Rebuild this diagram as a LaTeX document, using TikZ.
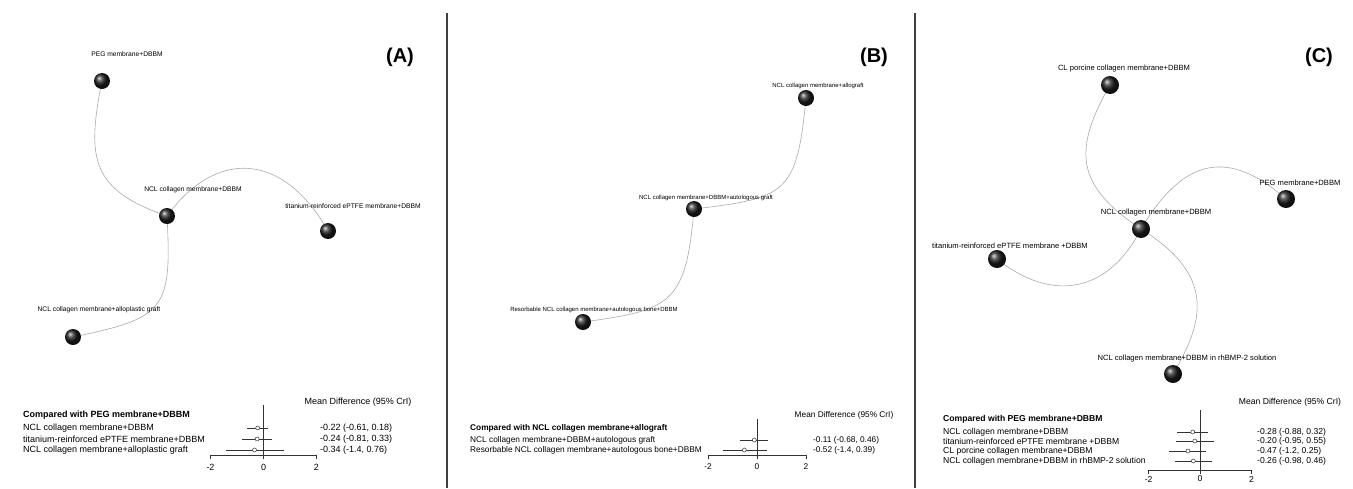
\documentclass[tikz,border=0pt]{standalone}
\usepackage{fontspec}
\setmainfont{Liberation Sans}
\usetikzlibrary{backgrounds}
\tikzset{
  sph/.style={circle, inner sep=0pt, minimum size=#1, ball color=black!88},
  sph/.default=16pt,
  link/.style={draw=gray!65, line width=0.6pt},
  lab/.style={inner sep=0pt, font=\fontsize{#1}{#1}\selectfont},
  panel/.style={inner sep=0pt, font=\fontsize{20}{20}\selectfont\bfseries},
  divider/.style={draw=black!75, line width=1.1pt},
  ci/.style={draw=black!80, line width=0.6pt},
  est/.style={draw=black!80, fill=white, line width=0.5pt},
  txt/.style={inner sep=0pt, anchor=west, font=\fontsize{#1}{#1}\selectfont},
}
\begin{document}
\begin{tikzpicture}[x=1pt,y=-1pt]
\useasboundingbox (0,0) rectangle (1353,488);
\begin{scope}[on background layer]
\fill[white] (0,0) rectangle (1353,488);
\end{scope}

% dividers
\coordinate (d1t) at (447,13); \coordinate (d1b) at (447,488);
\coordinate (d2t) at (915,13); \coordinate (d2b) at (915,488);
\draw[divider] (d1t) -- (d1b);
\draw[divider] (d2t) -- (d2b);

% ================= Panel A =================
\node[panel] (pA) at (400,57) {(A)};
\node[lab=6.7] (a1l) at (127,54) {PEG membrane+DBBM};
\node[lab=6.7] (a2l) at (193,190) {NCL collagen membrane+DBBM};
\node[lab=6.7] (a3l) at (353,206) {titanium-reinforced ePTFE membrane+DBBM};
\node[lab=6.7] (a4l) at (99,310) {NCL collagen membrane+alloplastic graft};
\node[sph] (a1) at (102,81) {};
\node[sph] (a2) at (167,216) {};
\node[sph] (a3) at (328,231) {};
\node[sph] (a4) at (73,337) {};
\begin{scope}[on background layer]
\path[link] (a1.center) .. controls (86,160) and (92,190) .. (a2.center);
\path[link] (a2.center) .. controls (215,150) and (282,150) .. (a3.center);
\path[link] (a2.center) .. controls (172,310) and (165,318) .. (a4.center);
\end{scope}

% forest A
\node[txt=9, anchor=center] (amd) at (358,402) {Mean Difference (95\% CrI)};
\node[txt=9, font=\fontsize{9}{9}\selectfont\bfseries] (acmp) at (23,415) {Compared with PEG membrane+DBBM};
\node[txt=9] (ar1) at (23,428) {NCL collagen membrane+DBBM};
\node[txt=9] (ar2) at (23,439) {titanium-reinforced ePTFE membrane+DBBM};
\node[txt=9] (ar3) at (23,450) {NCL collagen membrane+alloplastic graft};
\node[txt=9] (av1) at (320,428) {-0.22 (-0.61, 0.18)};
\node[txt=9] (av2) at (320,439) {-0.24 (-0.81, 0.33)};
\node[txt=9] (av3) at (320,450) {-0.34 (-1.4, 0.76)};
\begin{scope}[shift={(263.5,0)}, x=26.5pt]
  \draw[ci] (0,405) -- (0,459);
  \draw[ci] (-2,459) -- (-2,455) -- (2,455) -- (2,459);
  \draw[ci] (-0.61,428) -- (0.18,428);
  \draw[ci] (-0.81,439) -- (0.33,439);
  \draw[ci] (-1.4,450) -- (0.76,450);
  \draw[est] (-0.22,428) circle (2pt);
  \draw[est] (-0.24,439) circle (2pt);
  \draw[est] (-0.34,450) circle (2pt);
  \node[lab=9] (at1) at (-2,467) {-2};
  \node[lab=9] (at2) at (0,467) {0};
  \node[lab=9] (at3) at (2,467) {2};
\end{scope}

% ================= Panel B =================
\node[panel] (pB) at (874,57) {(B)};
\node[lab=6] (b1l) at (818,86) {NCL collagen membrane+allograft};
\node[lab=6] (b2l) at (706,198) {NCL collagen membrane+DBBM+autologous graft};
\node[lab=6] (b3l) at (594,310) {Resorbable NCL collagen membrane+autologous bone+DBBM};
\node[sph] (b1) at (806,98) {};
\node[sph] (b2) at (694,209) {};
\node[sph] (b3) at (583,322) {};
\begin{scope}[on background layer]
\path[link] (b1.center) .. controls (797,195) and (785,198) .. (b2.center);
\path[link] (b2.center) .. controls (686,305) and (670,310) .. (b3.center);
\end{scope}

% forest B
\node[txt=8.3, anchor=center] (bmd) at (844,415) {Mean Difference (95\% CrI)};
\node[txt=8.3, font=\fontsize{8.3}{8.3}\selectfont\bfseries] (bcmp) at (470,428) {Compared with NCL collagen membrane+allograft};
\node[txt=8.3] (br1) at (470,440) {NCL collagen membrane+DBBM+autologous graft};
\node[txt=8.3] (br2) at (470,450) {Resorbable NCL collagen membrane+autologous bone+DBBM};
\node[txt=8.3] (bv1) at (813,440) {-0.11 (-0.68, 0.46)};
\node[txt=8.3] (bv2) at (813,450) {-0.52 (-1.4, 0.39)};
\begin{scope}[shift={(757,0)}, x=24.5pt]
  \draw[ci] (0,419) -- (0,459);
  \draw[ci] (-2,459) -- (-2,455) -- (2,455) -- (2,459);
  \draw[ci] (-0.68,440) -- (0.46,440);
  \draw[ci] (-1.4,450) -- (0.39,450);
  \draw[est] (-0.11,440) circle (2pt);
  \draw[est] (-0.52,450) circle (2pt);
  \node[lab=8.3] (bt1) at (-2,467) {-2};
  \node[lab=8.3] (bt2) at (0,467) {0};
  \node[lab=8.3] (bt3) at (2,467) {2};
\end{scope}

% ================= Panel C =================
\node[panel] (pC) at (1319,57) {(C)};
\node[lab=7.6] (c1l) at (1124,69) {CL porcine collagen membrane+DBBM};
\node[lab=7.6] (c2l) at (1300,183) {PEG membrane+DBBM};
\node[lab=7.6] (c3l) at (1156,213) {NCL collagen membrane+DBBM};
\node[lab=7.6] (c4l) at (1010,246) {titanium-reinforced ePTFE membrane +DBBM};
\node[lab=7.6] (c5l) at (1187,359) {NCL collagen membrane+DBBM in rhBMP-2 solution};
\node[sph=18pt] (c1) at (1110,85) {};
\node[sph=18pt] (c2) at (1286,199) {};
\node[sph=18pt] (c3) at (1141,229) {};
\node[sph=18pt] (c4) at (997,259) {};
\node[sph=18pt] (c5) at (1173,374) {};
\begin{scope}[on background layer]
\path[link] (c1.center) .. controls (1073,150) and (1075,185) .. (c3.center);
\path[link] (c2.center) .. controls (1230,150) and (1185,155) .. (c3.center);
\path[link] (c3.center) .. controls (1110,290) and (1055,305) .. (c4.center);
\path[link] (c3.center) .. controls (1215,275) and (1205,320) .. (c5.center);
\end{scope}

% forest C
\node[txt=8.6, anchor=center] (cmd) at (1290,402) {Mean Difference (95\% CrI)};
\node[txt=8.6, font=\fontsize{8.6}{8.6}\selectfont\bfseries] (ccmp) at (943,419) {Compared with PEG membrane+DBBM};
\node[txt=8.6] (cr1) at (943,432) {NCL collagen membrane+DBBM};
\node[txt=8.6] (cr2) at (943,441) {titanium-reinforced ePTFE membrane +DBBM};
\node[txt=8.6] (cr3) at (943,451) {CL porcine collagen membrane+DBBM};
\node[txt=8.6] (cr4) at (943,461) {NCL collagen membrane+DBBM in rhBMP-2 solution};
\node[txt=8.6] (cv1) at (1257,432) {-0.28 (-0.88, 0.32)};
\node[txt=8.6] (cv2) at (1257,441) {-0.20 (-0.95, 0.55)};
\node[txt=8.6] (cv3) at (1257,451) {-0.47 (-1.2, 0.25)};
\node[txt=8.6] (cv4) at (1257,461) {-0.26 (-0.98, 0.46)};
\begin{scope}[shift={(1200,0)}, x=25.7pt]
  \draw[ci] (0,410) -- (0,474);
  \draw[ci] (-2,474) -- (-2,470) -- (2,470) -- (2,474);
  \draw[ci] (-0.88,432) -- (0.32,432);
  \draw[ci] (-0.95,441) -- (0.55,441);
  \draw[ci] (-1.2,451) -- (0.25,451);
  \draw[ci] (-0.98,461) -- (0.46,461);
  \draw[est] (-0.28,432) circle (2pt);
  \draw[est] (-0.20,441) circle (2pt);
  \draw[est] (-0.47,451) circle (2pt);
  \draw[est] (-0.26,461) circle (2pt);
  \node[lab=8.6] (ct1) at (-2,479) {-2};
  \node[lab=8.6] (ct2) at (0,479) {0};
  \node[lab=8.6] (ct3) at (2,479) {2};
\end{scope}
\end{tikzpicture}
\end{document}
